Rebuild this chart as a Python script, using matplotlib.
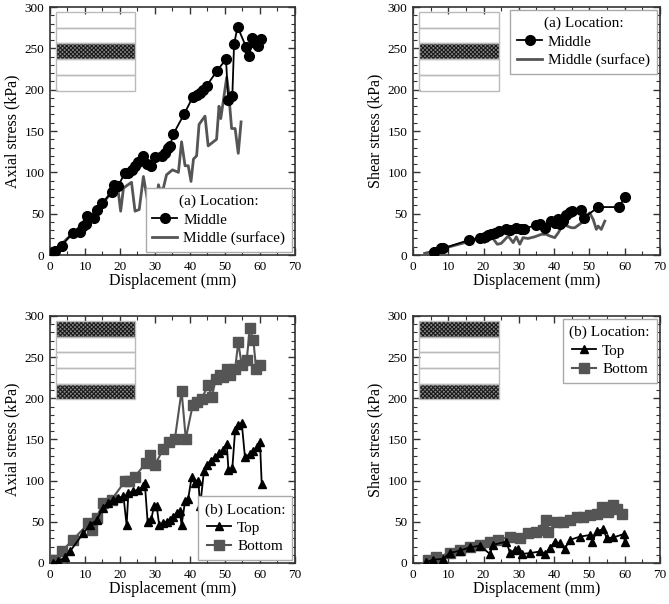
import numpy as np
import matplotlib
matplotlib.use('Agg')
import matplotlib.pyplot as plt
from matplotlib.patches import Rectangle
from matplotlib.ticker import MultipleLocator

plt.rcParams['font.family'] = ['Liberation Serif', 'DejaVu Serif']
plt.rcParams['hatch.linewidth'] = 0.8

# (a) middle layer, axial stress
mid_ax_x = [0.5, 1.4, 3.3, 6.5, 8.6, 9.5, 10.3, 10.7, 12.7, 13.3, 15.0, 17.6, 18.3, 19.5,
            21.4, 22.4, 23.3, 24.3, 25.2, 26.7, 27.6, 28.8, 30.0, 31.9, 32.9, 33.8, 34.3,
            35.2, 38.4, 40.8, 41.9, 42.9, 43.8, 44.8, 47.6, 50.3, 50.9, 52.1, 52.6, 53.6,
            56.0, 56.9, 57.8, 58.6, 59.3, 60.3]
mid_ax_y = [2, 5, 11, 27, 28, 35, 38, 47, 45, 54, 63, 76, 85, 84,
            99, 99, 103, 108, 112, 120, 110, 108, 118, 120, 124, 130, 132,
            146, 171, 191, 194, 196, 200, 205, 222, 237, 188, 192, 255, 276,
            252, 241, 262, 257, 253, 261]
surf_ax_x = [0.5, 5.0, 10.0, 15.0, 17.6, 19.5, 20.2, 21.0, 23.3, 24.3, 25.5, 26.7, 28.6,
             29.2, 30.0, 31.0, 31.4, 32.4, 33.3, 35.0, 36.7, 37.6, 38.6, 39.5, 40.3, 41.0,
             41.9, 42.6, 44.3, 45.2, 47.6, 48.3, 48.8, 50.5, 51.0, 51.9, 52.9, 53.8, 54.6]
surf_ax_y = [2, 20, 40, 62, 76, 77, 53, 81, 88, 53, 55, 95, 48,
             79, 51, 85, 79, 81, 97, 103, 100, 137, 108, 108, 89, 116,
             120, 158, 168, 132, 140, 180, 165, 215, 199, 153, 153, 123, 161]

# (a) middle layer, shear stress
mid_sh_x = [5.9, 7.9, 8.5, 15.8, 19.1, 20.3, 21.3, 22.2, 23.2, 24.3, 26.5, 27.4, 29.3,
            30.6, 31.4, 35.0, 35.9, 37.4, 39.1, 40.2, 41.0, 41.6, 42.6, 43.3, 44.5, 45.2,
            47.6, 48.5, 52.5, 58.4, 60.1]
mid_sh_y = [4, 9, 8, 18, 21, 22, 24, 26, 27, 29, 31, 30, 33,
            31, 32, 36, 38, 33, 41, 39, 43, 37, 41, 48, 52, 53,
            55, 45, 58, 58, 70]
surf_sh_x = [3.3, 6.1, 15.6, 18.9, 20.3, 21.3, 22.7, 23.9, 25.0, 27.0, 28.4, 29.3, 30.3,
             31.2, 32.6, 34.5, 36.4, 37.8, 38.8, 40.2, 41.2, 42.6, 44.9, 45.9, 47.8, 49.2,
             50.1, 51.1, 52.0, 52.5, 53.4, 54.4]
surf_sh_y = [2, 5, 16, 20, 15, 22, 20, 13, 14, 23, 15, 22, 13,
             21, 20, 22, 25, 25, 23, 21, 27, 37, 33, 33, 39, 47,
             51, 43, 31, 35, 31, 41]

# (b) top / bottom layers, axial stress
top_ax_x = [1.0, 2.4, 4.3, 5.7, 9.5, 11.4, 13.3, 15.2, 16.7, 18.1, 19.5, 21.0, 21.9, 22.4,
            23.8, 25.2, 26.7, 27.1, 27.9, 29.0, 29.7, 30.5, 31.2, 32.4, 33.3, 34.3, 35.2,
            36.2, 37.1, 37.6, 38.6, 39.5, 40.5, 41.4, 42.4, 42.9, 44.0, 44.8, 45.9, 47.1,
            48.3, 49.3, 50.5, 51.0, 52.1, 52.9, 53.8, 54.8, 55.7, 57.1, 58.1, 59.2, 60.0, 60.5]
top_ax_y = [0, 2, 7, 14, 36, 46, 52, 67, 73, 77, 79, 81, 46, 85,
            87, 89, 93, 97, 50, 54, 69, 69, 46, 48, 50, 52, 56,
            61, 63, 46, 75, 78, 105, 97, 99, 69, 112, 119, 124, 129,
            133, 137, 145, 113, 115, 161, 168, 170, 129, 132, 136, 141, 147, 96]
bot_ax_x = [0.5, 1.4, 3.3, 6.5, 11.0, 11.9, 13.3, 15.2, 17.6, 21.4, 22.7, 24.3, 27.3,
            28.6, 30.0, 32.4, 34.0, 35.7, 37.6, 38.8, 40.8, 41.9, 43.3, 45.2, 46.2, 47.4,
            48.6, 49.5, 50.5, 51.4, 52.9, 53.8, 54.8, 56.2, 57.1, 58.1, 58.9, 60.0]
bot_ax_y = [4, 4, 14, 28, 48, 40, 55, 73, 77, 99, 100, 105, 121,
            131, 119, 139, 147, 151, 209, 151, 192, 196, 199, 216, 202, 223,
            228, 226, 236, 228, 236, 268, 240, 246, 285, 271, 236, 241]

# (b) top / bottom layers, shear stress
top_sh_x = [3.8, 5.7, 8.5, 10.4, 13.3, 16.1, 19.0, 21.8, 22.7, 26.5, 27.5, 28.9, 29.8,
            30.8, 33.2, 36.0, 37.4, 38.8, 40.2, 41.6, 43.0, 44.5, 47.3, 50.2, 50.9, 52.1,
            54.0, 54.9, 56.8, 59.7, 60.1]
top_sh_y = [1, 4, 5, 12, 15, 19, 21, 11, 22, 26, 12, 16, 17,
            11, 12, 14, 11, 18, 26, 24, 17, 28, 32, 34, 26, 39,
            41, 30, 31, 35, 25]
bot_sh_x = [4.3, 6.6, 10.4, 13.3, 16.1, 19.0, 21.8, 24.2, 27.5, 30.3, 32.7, 35.0, 37.0,
            37.7, 38.4, 40.7, 42.6, 44.5, 46.4, 48.3, 50.2, 52.1, 53.5, 55.4, 56.8, 57.8, 59.2]
bot_sh_y = [4, 7, 12, 16, 20, 22, 26, 28, 32, 30, 36, 38, 40,
            52, 38, 50, 50, 52, 56, 56, 58, 60, 68, 62, 70, 65, 60]

black = '#000000'
gray = '#555555'

fig = plt.figure(figsize=(6.69, 6.04), dpi=100)
ax1 = fig.add_axes([0.0747, 0.5778, 0.3662, 0.4106])
ax2 = fig.add_axes([0.6173, 0.5778, 0.3690, 0.4106])
ax3 = fig.add_axes([0.0747, 0.0679, 0.3662, 0.4090])
ax4 = fig.add_axes([0.6173, 0.0679, 0.3690, 0.4090])


def layers(ax, hatched):
    # little sketch of the layered sample, top-left corner
    x0, w = 0.023, 0.324
    y0, h = 0.663, 0.317
    dh = h / 5
    for k in range(5):
        yk = y0 + h - (k + 1) * dh
        if k in hatched:
            ax.add_patch(Rectangle((x0, yk), w, dh, transform=ax.transAxes,
                                   facecolor='#8a8a8a', edgecolor='#1a1a1a',
                                   hatch='xxxxxxxx', lw=0, zorder=1))
        ax.add_patch(Rectangle((x0, yk), w, dh, transform=ax.transAxes,
                               facecolor='none', edgecolor='#bbbbbb', lw=1.0, zorder=2))


def style(ax, ylab):
    ax.set_xlim(0, 70)
    ax.set_ylim(0, 300)
    ax.xaxis.set_major_locator(MultipleLocator(10))
    ax.xaxis.set_minor_locator(MultipleLocator(5))
    ax.yaxis.set_major_locator(MultipleLocator(50))
    ax.yaxis.set_minor_locator(MultipleLocator(10))
    ax.tick_params(which='both', direction='in', top=True, right=True,
                   labelsize=9.5, color='#333333', pad=4)
    ax.tick_params(which='major', length=5, width=1.0)
    ax.tick_params(which='minor', length=3, width=0.8)
    for s in ax.spines.values():
        s.set_color('#333333')
        s.set_linewidth(1.2)
    ax.set_xlabel('Displacement (mm)', fontsize=11.5, labelpad=0)
    ax.set_ylabel(ylab, fontsize=11.5, labelpad=3)


def legend(ax, title, loc, flip=False):
    h, l = ax.get_legend_handles_labels()
    if flip:
        h, l = h[::-1], l[::-1]
    leg = ax.legend(h, l, title=title, loc=loc, fontsize=11, title_fontsize=11,
                    frameon=True, fancybox=False, edgecolor='#aaaaaa', framealpha=1,
                    handlelength=1.6, handletextpad=0.4, borderpad=0.45,
                    labelspacing=0.3, borderaxespad=0.2)
    leg.get_frame().set_linewidth(1.0)


# top left
layers(ax1, [2])
ax1.plot(surf_ax_x, surf_ax_y, color=gray, lw=2.0, label='Middle (surface)', zorder=3)
ax1.plot(mid_ax_x, mid_ax_y, color=black, lw=1.3, marker='o', ms=7, label='Middle', zorder=4)
style(ax1, 'Axial stress (kPa)')
legend(ax1, '(a) Location:', 'lower right', flip=True)

# top right
layers(ax2, [2])
ax2.plot(surf_sh_x, surf_sh_y, color=gray, lw=2.0, label='Middle (surface)', zorder=3)
ax2.plot(mid_sh_x, mid_sh_y, color=black, lw=1.3, marker='o', ms=7, label='Middle', zorder=4)
style(ax2, 'Shear stress (kPa)')
legend(ax2, '(a) Location:', 'upper right', flip=True)

# bottom left
layers(ax3, [0, 4])
ax3.plot(top_ax_x, top_ax_y, color=black, lw=1.3, marker='^', ms=6, label='Top', zorder=4)
ax3.plot(bot_ax_x, bot_ax_y, color=gray, lw=1.5, marker='s', ms=7, label='Bottom', zorder=3)
style(ax3, 'Axial stress (kPa)')
legend(ax3, '(b) Location:', 'lower right')

# bottom right
layers(ax4, [0, 4])
ax4.plot(top_sh_x, top_sh_y, color=black, lw=1.3, marker='^', ms=6, label='Top', zorder=4)
ax4.plot(bot_sh_x, bot_sh_y, color=gray, lw=1.5, marker='s', ms=7, label='Bottom', zorder=3)
style(ax4, 'Shear stress (kPa)')
legend(ax4, '(b) Location:', 'upper right')

plt.savefig('out.png', dpi=100)
